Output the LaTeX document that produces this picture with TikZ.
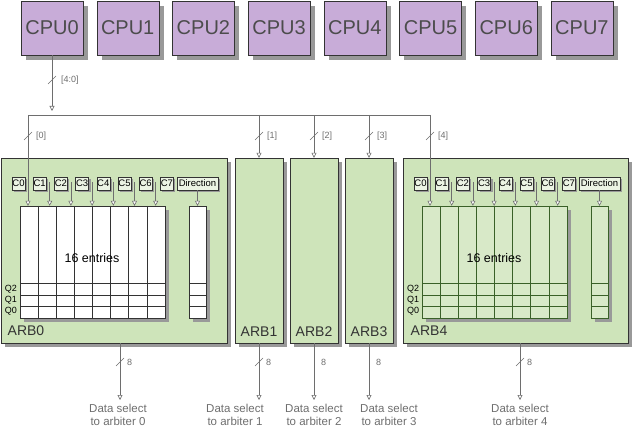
\documentclass[tikz,border=0pt]{standalone}
\usepackage{fontspec}
\setmainfont{Liberation Sans}
\usetikzlibrary{arrows.meta}
\definecolor{cpufill}{RGB}{200,172,216}
\definecolor{arbfill}{RGB}{206,228,186}
\definecolor{cellfill}{RGB}{236,244,228}
\definecolor{tgreen}{RGB}{58,96,40}
\definecolor{wire}{RGB}{110,110,110}
\begin{document}
\begin{tikzpicture}[x=1pt,y=-1pt,
  sh/.style={fill=gray!80},
  cpu/.style={draw=black!80,fill=cpufill,minimum width=62pt,minimum height=54pt,inner sep=0pt,
    font=\fontsize{20}{20}\selectfont,text=black!70},
  arb/.style={draw=black!80,fill=arbfill,inner sep=0pt},
  cbox/.style={draw=black!80,fill=cellfill,minimum width=13pt,minimum height=13pt,inner sep=0pt,
    font=\fontsize{9.5}{9.5}\selectfont},
  tbl/.style={draw=black!80,fill=white,inner sep=0pt},
  tblg/.style={draw=tgreen,fill=arbfill!80!white,inner sep=0pt},
  conn/.style={draw=wire,line width=0.6pt},
  arr/.style={conn,-{Triangle[open,fill=white,length=5pt,width=5pt]}},
  buslbl/.style={font=\fontsize{9}{9}\selectfont,text=wire,anchor=west,inner sep=1pt},
  arblbl/.style={font=\fontsize{14}{14}\selectfont,text=black!80,inner sep=0pt},
  qlbl/.style={font=\fontsize{9}{9}\selectfont,inner sep=0pt},
  outtxt/.style={font=\fontsize{11.5}{13}\selectfont,text=wire,align=center,anchor=north,inner sep=0pt}]
\useasboundingbox (0,0) rectangle (632,430);

% drop shadows of the processors and arbiter blocks
\fill[sh] (26,6) rectangle (88,60);
\fill[sh] (102,6) rectangle (164,60);
\fill[sh] (177,6) rectangle (239,60);
\fill[sh] (253,6) rectangle (315,60);
\fill[sh] (329,6) rectangle (391,60);
\fill[sh] (404,6) rectangle (466,60);
\fill[sh] (480,6) rectangle (542,60);
\fill[sh] (556,6) rectangle (618,60);
\fill[sh] (5,162) rectangle (231,347);
\fill[sh] (239,162) rectangle (287,347);
\fill[sh] (294,162) rectangle (342,347);
\fill[sh] (349,162) rectangle (397,347);
\fill[sh] (407,162) rectangle (632,347);

% processors
\foreach \i in {0,...,7}
  \node[cpu] (cpu\i) at ({52+75.7*\i},28) {CPU\i};

% arbiter blocks
\node[arb,minimum width=226pt,minimum height=185pt] (arb0) at (114,250.5) {};
\node[arb,minimum width=48pt,minimum height=185pt] (arb1) at (259,250.5) {};
\node[arb,minimum width=48pt,minimum height=185pt] (arb2) at (314,250.5) {};
\node[arb,minimum width=48pt,minimum height=185pt] (arb3) at (369,250.5) {};
\node[arb,minimum width=225pt,minimum height=185pt] (arb4) at (515.5,250.5) {};

\node[arblbl] (l0) at (26,331) {ARB0};
\node[arblbl] (l1) at (259,332) {ARB1};
\node[arblbl] (l2) at (314,332) {ARB2};
\node[arblbl] (l3) at (369,332) {ARB3};
\node[arblbl] (l4) at (429,331) {ARB4};

% entry tables and counters inside ARB0 and ARB4
\foreach \a/\ox/\ts/\lc in {0/0/tbl/black!80, 4/402/tblg/tgreen}{
  \fill[sh] ({\ox+24},210) rectangle ({\ox+169},322);
  \fill[sh] ({\ox+193},210) rectangle ({\ox+210},322);
  \node[\ts,minimum width=145pt,minimum height=112pt] (tab\a) at ({\ox+92.5},262) {};
  \node[\ts,minimum width=17pt,minimum height=112pt] (dcol\a) at ({\ox+197.5},262) {};
  \foreach \k in {1,...,7}
    \draw[\lc,line width=0.6pt] ({\ox+20+18.125*\k},206) -- ({\ox+20+18.125*\k},318);
  \foreach \yy in {283,295,306}{
    \draw[\lc,line width=0.6pt] ({\ox+20},\yy) -- ({\ox+165},\yy);
    \draw[\lc,line width=0.6pt] ({\ox+189},\yy) -- ({\ox+206},\yy);
  }
  \node[font=\fontsize{12.5}{12.5}\selectfont,inner sep=0pt] (ent\a) at ({\ox+92},258) {16 entries};
  \node[qlbl] (q2\a) at ({\ox+11},289) {Q2};
  \node[qlbl] (q1\a) at ({\ox+11},300) {Q1};
  \node[qlbl] (q0\a) at ({\ox+11},311) {Q0};
  \foreach \k in {0,...,7}{
    \fill[sh] ({\ox+14+21.2*\k},179) rectangle ({\ox+27+21.2*\k},192);
    \node[cbox] (c\k-\a) at ({\ox+18.5+21.2*\k},183.5) {C\k};
  }
  \fill[sh] ({\ox+179},179) rectangle ({\ox+220},192);
  \node[cbox,minimum width=41pt] (dir\a) at ({\ox+197.5},183.5) {Direction};
  \foreach \k in {1,...,6}
    \draw[arr] ({\ox+28.5+21.2*\k},182) -- (tab\a.north -| {\ox+28.5+21.2*\k},0);
  \draw[arr] (dir\a.south) -- (dcol\a.north);
}

% request bus from CPU0
\coordinate (bs) at (28,115);
\coordinate (be) at (430,115);
\draw[arr] (cpu0.south) -- (52,111);
\draw[conn] (52,80) +(-4,4) -- +(4,-4);
\node[buslbl] (bw) at (60,80) {[4:0]};
\draw[conn] (bs) -- (be);

\coordinate (bt1) at (259,115);
\coordinate (bt2) at (314,115);
\coordinate (bt3) at (369,115);
\draw[arr] (bs) -- (tab0.north -| bs);
\draw[arr] (bt1) -- (arb1.north);
\draw[arr] (bt2) -- (arb2.north);
\draw[arr] (bt3) -- (arb3.north);
\draw[arr] (be) -- (tab4.north -| be);
\foreach \x/\n in {28/0,259/1,314/2,369/3,430/4}{
  \draw[conn] (\x,136) +(-4,4) -- +(4,-4);
  \node[buslbl] (bl\n) at (\x+7,136) {[\n]};
}

% data select outputs
\coordinate (s0) at (120,400);
\coordinate (s1) at (259,400);
\coordinate (s2) at (314,400);
\coordinate (s3) at (369,400);
\coordinate (s4) at (520,400);
\draw[arr] (arb0.south -| s0) -- (s0);
\draw[arr] (arb1.south -| s1) -- (s1);
\draw[arr] (arb2.south -| s2) -- (s2);
\draw[arr] (arb3.south -| s3) -- (s3);
\draw[arr] (arb4.south -| s4) -- (s4);
\foreach \x in {120,259,520}
  \draw[conn] (\x,362) +(-4,4) -- +(4,-4);
\foreach \x/\n in {120/0,259/1,314/2,369/3,520/4}
  \node[buslbl] (w\n) at (\x+6,362) {8};

\node[outtxt] (d0) at (118,404) {Data select\\to arbiter 0};
\node[outtxt] (d1) at (235,404) {Data select\\to arbiter 1};
\node[outtxt] (d2) at (314,404) {Data select\\to arbiter 2};
\node[outtxt] (d3) at (389,404) {Data select\\to arbiter 3};
\node[outtxt] (d4) at (520,404) {Data select\\to arbiter 4};
\end{tikzpicture}
\end{document}
